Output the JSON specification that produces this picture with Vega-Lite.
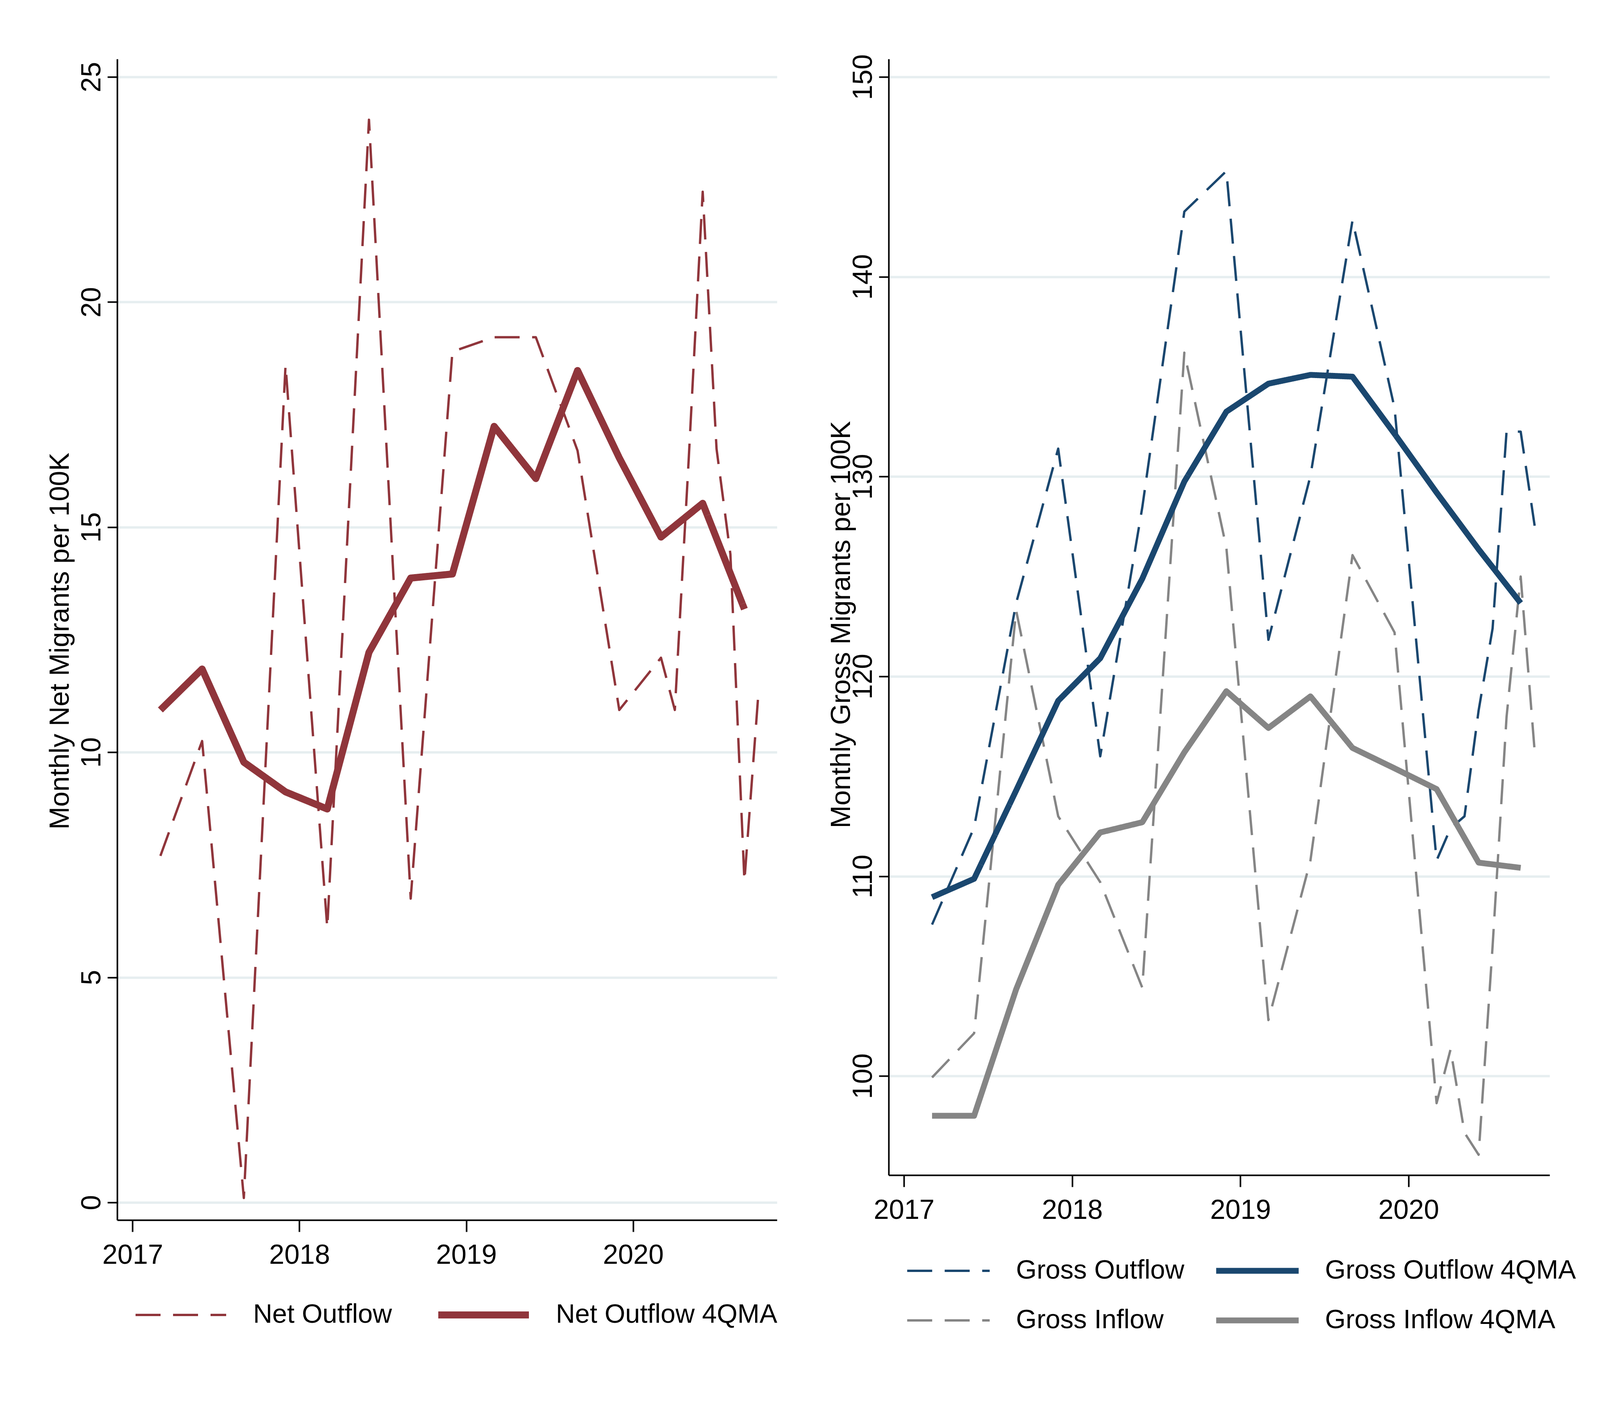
{
  "$schema": "https://vega.github.io/schema/vega-lite/v6.json",
  "padding": {"left": 119, "top": 138, "right": 5, "bottom": 5},
  "background": "white",
  "config": {
    "font": "Liberation Sans",
    "view": {"stroke": null},
    "axis": {
      "domainColor": "black",
      "domainWidth": 4,
      "tickColor": "black",
      "tickWidth": 4,
      "labelFont": "Liberation Sans",
      "labelFontSize": 70,
      "labelColor": "black",
      "titleFont": "Liberation Sans",
      "titleFontSize": 70,
      "titleFontWeight": "normal",
      "titleColor": "black",
      "gridColor": "#E6EEF0",
      "gridWidth": 6
    },
    "axisX": {"grid": false, "tickSize": 30, "labelPadding": 26, "labelFlush": false, "labelOverlap": false},
    "axisY": {
      "grid": true,
      "tickSize": 25,
      "labelAngle": -90,
      "labelAlign": "center",
      "labelBaseline": "alphabetic",
      "labelPadding": 19,
      "labelOverlap": false,
      "titleAngle": -90,
      "titleAlign": "center",
      "titleBaseline": "alphabetic"
    },
    "legend": {
      "orient": "none",
      "direction": "horizontal",
      "columns": 2,
      "title": null,
      "labelFont": "Liberation Sans",
      "labelFontSize": 68,
      "labelColor": "black",
      "labelLimit": 0,
      "symbolType": "M-8,0L8,0",
      "gridAlign": "each",
      "padding": 0
    },
    "line": {"strokeJoin": "round", "strokeCap": "butt"}
  },
  "bounds": "flush",
  "spacing": 286,
  "resolve": {
    "scale": {"color": "independent", "strokeDash": "independent", "strokeWidth": "independent", "x": "independent", "y": "independent"},
    "legend": {"color": "independent", "strokeDash": "independent", "strokeWidth": "independent"}
  },
  "hconcat": [
    {
      "width": 1689,
      "height": 2973,
      "data": {
        "values": [
          {"t": 2017.167, "v": 7.7, "series": "Net Outflow"},
          {"t": 2017.417, "v": 10.25, "series": "Net Outflow"},
          {"t": 2017.667, "v": 0.1, "series": "Net Outflow"},
          {"t": 2017.917, "v": 18.6, "series": "Net Outflow"},
          {"t": 2018.167, "v": 6.1, "series": "Net Outflow"},
          {"t": 2018.417, "v": 24.05, "series": "Net Outflow"},
          {"t": 2018.667, "v": 6.75, "series": "Net Outflow"},
          {"t": 2018.917, "v": 18.9, "series": "Net Outflow"},
          {"t": 2019.167, "v": 19.22, "series": "Net Outflow"},
          {"t": 2019.417, "v": 19.22, "series": "Net Outflow"},
          {"t": 2019.667, "v": 16.7, "series": "Net Outflow"},
          {"t": 2019.917, "v": 10.94, "series": "Net Outflow"},
          {"t": 2020.167, "v": 12.1, "series": "Net Outflow"},
          {"t": 2020.25, "v": 10.94, "series": "Net Outflow"},
          {"t": 2020.333, "v": 16.5, "series": "Net Outflow"},
          {"t": 2020.417, "v": 22.45, "series": "Net Outflow"},
          {"t": 2020.5, "v": 16.74, "series": "Net Outflow"},
          {"t": 2020.583, "v": 14.4, "series": "Net Outflow"},
          {"t": 2020.667, "v": 7.14, "series": "Net Outflow"},
          {"t": 2020.75, "v": 11.27, "series": "Net Outflow"},
          {"t": 2017.167, "v": 10.94, "series": "Net Outflow 4QMA"},
          {"t": 2017.417, "v": 11.85, "series": "Net Outflow 4QMA"},
          {"t": 2017.667, "v": 9.78, "series": "Net Outflow 4QMA"},
          {"t": 2017.917, "v": 9.12, "series": "Net Outflow 4QMA"},
          {"t": 2018.167, "v": 8.74, "series": "Net Outflow 4QMA"},
          {"t": 2018.417, "v": 12.22, "series": "Net Outflow 4QMA"},
          {"t": 2018.667, "v": 13.87, "series": "Net Outflow 4QMA"},
          {"t": 2018.917, "v": 13.96, "series": "Net Outflow 4QMA"},
          {"t": 2019.167, "v": 17.24, "series": "Net Outflow 4QMA"},
          {"t": 2019.417, "v": 16.08, "series": "Net Outflow 4QMA"},
          {"t": 2019.667, "v": 18.48, "series": "Net Outflow 4QMA"},
          {"t": 2019.917, "v": 16.54, "series": "Net Outflow 4QMA"},
          {"t": 2020.167, "v": 14.78, "series": "Net Outflow 4QMA"},
          {"t": 2020.417, "v": 15.53, "series": "Net Outflow 4QMA"},
          {"t": 2020.667, "v": 13.18, "series": "Net Outflow 4QMA"}
        ]
      },
      "encoding": {
        "x": {
          "field": "t",
          "type": "quantitative",
          "scale": {"domain": [2016.908, 2020.862], "nice": false, "zero": false},
          "axis": {"values": [2017, 2018, 2019, 2020], "format": "d", "title": null}
        },
        "y": {
          "field": "v",
          "type": "quantitative",
          "scale": {"domain": [-0.39, 25.4], "nice": false, "zero": false},
          "axis": {
            "values": [0, 5, 10, 15, 20, 25],
            "title": "Monthly Net Migrants per 100K",
            "titleX": -125,
            "titleY": 1490
          }
        },
        "color": {
          "field": "series",
          "type": "nominal",
          "scale": {"domain": ["Net Outflow", "Net Outflow 4QMA"], "range": ["#90353B", "#90353B"]},
          "legend": {"legendX": 129, "legendY": 3182, "symbolSize": 841, "labelOffset": 151, "columnPadding": 109}
        },
        "strokeDash": {
          "field": "series",
          "type": "nominal",
          "scale": {"domain": ["Net Outflow", "Net Outflow 4QMA"], "range": [[64, 32], [1, 0]]}
        },
        "strokeWidth": {
          "field": "series",
          "type": "nominal",
          "scale": {"type": "ordinal", "domain": ["Net Outflow", "Net Outflow 4QMA"], "range": [6, 18]}
        }
      },
      "layer": [
        {"transform": [{"filter": "datum.series == 'Net Outflow'"}], "mark": {"type": "line"}},
        {"transform": [{"filter": "datum.series == 'Net Outflow 4QMA'"}], "mark": {"type": "line"}}
      ]
    },
    {
      "width": 1692,
      "height": 2858,
      "data": {
        "values": [
          {"t": 2017.167, "v": 107.58, "series": "Gross Outflow"},
          {"t": 2017.417, "v": 112.44, "series": "Gross Outflow"},
          {"t": 2017.667, "v": 123.67, "series": "Gross Outflow"},
          {"t": 2017.917, "v": 131.4, "series": "Gross Outflow"},
          {"t": 2018.167, "v": 116.0, "series": "Gross Outflow"},
          {"t": 2018.417, "v": 128.46, "series": "Gross Outflow"},
          {"t": 2018.667, "v": 143.26, "series": "Gross Outflow"},
          {"t": 2018.917, "v": 145.29, "series": "Gross Outflow"},
          {"t": 2019.167, "v": 121.83, "series": "Gross Outflow"},
          {"t": 2019.417, "v": 130.04, "series": "Gross Outflow"},
          {"t": 2019.667, "v": 142.82, "series": "Gross Outflow"},
          {"t": 2019.917, "v": 133.43, "series": "Gross Outflow"},
          {"t": 2020.167, "v": 110.79, "series": "Gross Outflow"},
          {"t": 2020.25, "v": 112.4, "series": "Gross Outflow"},
          {"t": 2020.333, "v": 113.0, "series": "Gross Outflow"},
          {"t": 2020.417, "v": 118.3, "series": "Gross Outflow"},
          {"t": 2020.5, "v": 122.4, "series": "Gross Outflow"},
          {"t": 2020.583, "v": 132.25, "series": "Gross Outflow"},
          {"t": 2020.667, "v": 132.25, "series": "Gross Outflow"},
          {"t": 2020.75, "v": 127.54, "series": "Gross Outflow"},
          {"t": 2017.167, "v": 99.93, "series": "Gross Inflow"},
          {"t": 2017.417, "v": 102.14, "series": "Gross Inflow"},
          {"t": 2017.667, "v": 123.3, "series": "Gross Inflow"},
          {"t": 2017.917, "v": 113.0, "series": "Gross Inflow"},
          {"t": 2018.167, "v": 109.7, "series": "Gross Inflow"},
          {"t": 2018.417, "v": 104.42, "series": "Gross Inflow"},
          {"t": 2018.667, "v": 136.2, "series": "Gross Inflow"},
          {"t": 2018.917, "v": 126.44, "series": "Gross Inflow"},
          {"t": 2019.167, "v": 102.8, "series": "Gross Inflow"},
          {"t": 2019.417, "v": 110.79, "series": "Gross Inflow"},
          {"t": 2019.667, "v": 126.07, "series": "Gross Inflow"},
          {"t": 2019.917, "v": 122.2, "series": "Gross Inflow"},
          {"t": 2020.167, "v": 98.64, "series": "Gross Inflow"},
          {"t": 2020.25, "v": 101.33, "series": "Gross Inflow"},
          {"t": 2020.333, "v": 97.16, "series": "Gross Inflow"},
          {"t": 2020.417, "v": 96.06, "series": "Gross Inflow"},
          {"t": 2020.5, "v": 106.5, "series": "Gross Inflow"},
          {"t": 2020.583, "v": 117.97, "series": "Gross Inflow"},
          {"t": 2020.667, "v": 125.0, "series": "Gross Inflow"},
          {"t": 2020.75, "v": 116.27, "series": "Gross Inflow"},
          {"t": 2017.167, "v": 108.95, "series": "Gross Outflow 4QMA"},
          {"t": 2017.417, "v": 109.87, "series": "Gross Outflow 4QMA"},
          {"t": 2017.667, "v": 114.29, "series": "Gross Outflow 4QMA"},
          {"t": 2017.917, "v": 118.78, "series": "Gross Outflow 4QMA"},
          {"t": 2018.167, "v": 120.91, "series": "Gross Outflow 4QMA"},
          {"t": 2018.417, "v": 124.89, "series": "Gross Outflow 4QMA"},
          {"t": 2018.667, "v": 129.75, "series": "Gross Outflow 4QMA"},
          {"t": 2018.917, "v": 133.25, "series": "Gross Outflow 4QMA"},
          {"t": 2019.167, "v": 134.65, "series": "Gross Outflow 4QMA"},
          {"t": 2019.417, "v": 135.09, "series": "Gross Outflow 4QMA"},
          {"t": 2019.667, "v": 135.0, "series": "Gross Outflow 4QMA"},
          {"t": 2019.917, "v": 132.14, "series": "Gross Outflow 4QMA"},
          {"t": 2020.167, "v": 129.2, "series": "Gross Outflow 4QMA"},
          {"t": 2020.417, "v": 126.36, "series": "Gross Outflow 4QMA"},
          {"t": 2020.667, "v": 123.67, "series": "Gross Outflow 4QMA"},
          {"t": 2017.167, "v": 98.01, "series": "Gross Inflow 4QMA"},
          {"t": 2017.417, "v": 98.01, "series": "Gross Inflow 4QMA"},
          {"t": 2017.667, "v": 104.34, "series": "Gross Inflow 4QMA"},
          {"t": 2017.917, "v": 109.57, "series": "Gross Inflow 4QMA"},
          {"t": 2018.167, "v": 112.19, "series": "Gross Inflow 4QMA"},
          {"t": 2018.417, "v": 112.7, "series": "Gross Inflow 4QMA"},
          {"t": 2018.667, "v": 116.2, "series": "Gross Inflow 4QMA"},
          {"t": 2018.917, "v": 119.26, "series": "Gross Inflow 4QMA"},
          {"t": 2019.167, "v": 117.42, "series": "Gross Inflow 4QMA"},
          {"t": 2019.417, "v": 119.0, "series": "Gross Inflow 4QMA"},
          {"t": 2019.667, "v": 116.42, "series": "Gross Inflow 4QMA"},
          {"t": 2019.917, "v": 115.4, "series": "Gross Inflow 4QMA"},
          {"t": 2020.167, "v": 114.36, "series": "Gross Inflow 4QMA"},
          {"t": 2020.417, "v": 110.68, "series": "Gross Inflow 4QMA"},
          {"t": 2020.667, "v": 110.42, "series": "Gross Inflow 4QMA"}
        ]
      },
      "encoding": {
        "x": {
          "field": "t",
          "type": "quantitative",
          "scale": {"domain": [2016.909, 2020.839], "nice": false, "zero": false},
          "axis": {"values": [2017, 2018, 2019, 2020], "format": "d", "title": null}
        },
        "y": {
          "field": "v",
          "type": "quantitative",
          "scale": {"domain": [95.04, 150.9], "nice": false, "zero": false},
          "axis": {
            "values": [100, 110, 120, 130, 140, 150],
            "title": "Monthly Gross Migrants per 100K",
            "titleX": -100,
            "titleY": 1448
          }
        },
        "color": {
          "field": "series",
          "type": "nominal",
          "scale": {
            "domain": ["Gross Outflow", "Gross Outflow 4QMA", "Gross Inflow", "Gross Inflow 4QMA"],
            "range": ["#1A476F", "#1A476F", "#858585", "#858585"]
          },
          "legend": {"legendX": 119, "legendY": 3069, "symbolSize": 697, "labelOffset": 139, "columnPadding": 73, "rowPadding": 59}
        },
        "strokeDash": {
          "field": "series",
          "type": "nominal",
          "scale": {
            "domain": ["Gross Outflow", "Gross Outflow 4QMA", "Gross Inflow", "Gross Inflow 4QMA"],
            "range": [[64, 32], [1, 0], [64, 32], [1, 0]]
          }
        },
        "strokeWidth": {
          "field": "series",
          "type": "nominal",
          "scale": {
            "type": "ordinal",
            "domain": ["Gross Outflow", "Gross Outflow 4QMA", "Gross Inflow", "Gross Inflow 4QMA"],
            "range": [6, 15, 6, 15]
          }
        }
      },
      "layer": [
        {"transform": [{"filter": "datum.series == 'Gross Outflow' || datum.series == 'Gross Inflow'"}], "mark": {"type": "line"}},
        {"transform": [{"filter": "datum.series == 'Gross Outflow 4QMA' || datum.series == 'Gross Inflow 4QMA'"}], "mark": {"type": "line"}}
      ]
    }
  ]
}
